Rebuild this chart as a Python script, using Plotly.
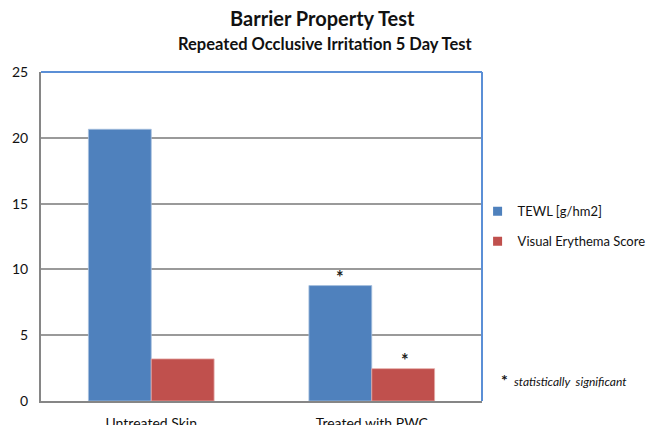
import plotly.graph_objects as go

categories = ["Untreated Skin", "Treated with PWC"]
tewl = [20.65, 8.77]
erythema = [3.2, 2.46]
series_names = ["TEWL [g/hm2]", "Visual Erythema Score"]
y_ticks = [0, 5, 10, 15, 20, 25]
# (category, bar value, series index) of the bars marked as significant
significant_marks = [("Treated with PWC", 8.77, 0), ("Treated with PWC", 2.46, 1)]

FONT = "Lato"
BLUE = "#4F81BD"
RED = "#C0504D"
BARGAP = 0.43
CAT_PX = 441 / len(categories)

fig = go.Figure()
fig.add_trace(go.Bar(x=categories, y=tewl, name=series_names[0],
                     marker=dict(color=BLUE, line=dict(color="#A7C0DE", width=0.8)),
                     showlegend=False))
fig.add_trace(go.Bar(x=categories, y=erythema, name=series_names[1],
                     marker=dict(color=RED, line=dict(color="#E5A9A7", width=0.8)),
                     showlegend=False))
# legend-only entries with small square swatches
for name, col, grp in [(series_names[0], BLUE, "a"), (series_names[1], RED, "b")]:
    fig.add_trace(go.Scatter(x=[None], y=[None], mode="markers", name=name,
                             marker=dict(symbol="square", size=9, color=col),
                             legendgroup=grp))

half = (1 - BARGAP) / 4
for cat, val, idx in significant_marks:
    off = -half if idx == 0 else half
    fig.add_annotation(x=cat, y=val, xshift=off * CAT_PX + (2 if idx == 1 else 0), yshift=9,
                       text="<b>*</b>", showarrow=False,
                       font=dict(family=FONT, size=18, color="#222"))

fig.add_annotation(xref="paper", yref="paper", x=1.038, y=0.065, xanchor="left",
                   yanchor="middle",
                   text="<b><span style='font-size:16px'>*</span></b>  <i>statistically  significant</i>",
                   showarrow=False, font=dict(family=FONT, size=12, color="#111"))

fig.add_annotation(xref="paper", yref="paper", x=0.645, y=1.0 + 28 / 329, xanchor="center",
                   yanchor="middle", text="<b>Repeated Occlusive Irritation 5 Day Test</b>",
                   showarrow=False, font=dict(family=FONT, size=16.5, color="#111"))

# top and right plot borders (blue)
fig.add_shape(type="line", xref="x domain", yref="y domain", x0=0, x1=1, y0=1, y1=1,
              line=dict(color="#5B8FD6", width=2))
fig.add_shape(type="line", xref="x domain", yref="y domain", x0=1, x1=1, y0=0, y1=1,
              line=dict(color="#5B8FD6", width=2))

fig.update_layout(
    width=651, height=425,
    margin=dict(l=41, r=169, t=72, b=24, autoexpand=False),
    paper_bgcolor="white", plot_bgcolor="white",
    barmode="group", bargap=BARGAP, bargroupgap=0,
    title=dict(text="<b>Barrier Property Test</b>", x=0.495, xref="container",
               y=1 - 19 / 425, yanchor="middle", font=dict(family=FONT, size=20, color="#111")),
    font=dict(family=FONT, size=14, color="#111"),
    legend=dict(x=0.99, y=0.622, xanchor="left", yanchor="top",
                bgcolor="rgba(0,0,0,0)",
                font=dict(family=FONT, size=13, color="#111"),
                traceorder="grouped", tracegroupgap=10, itemwidth=30),
    xaxis=dict(showline=True, linecolor="#868686", linewidth=2, ticks="", automargin=False,
               ticklabelstandoff=8, tickfont=dict(family=FONT, size=14)),
    yaxis=dict(range=[0, 25], tickvals=y_ticks, showgrid=True, gridcolor="#9A9A9A",
               gridwidth=1.5, showline=True, linecolor="#868686", linewidth=2,
               zeroline=False, ticks="", ticklabelstandoff=8, automargin=False,
               tickfont=dict(family=FONT, size=14)),
)

fig.write_html("out.html", config={"displayModeBar": False},
               post_script="document.body.style.margin='0';")
